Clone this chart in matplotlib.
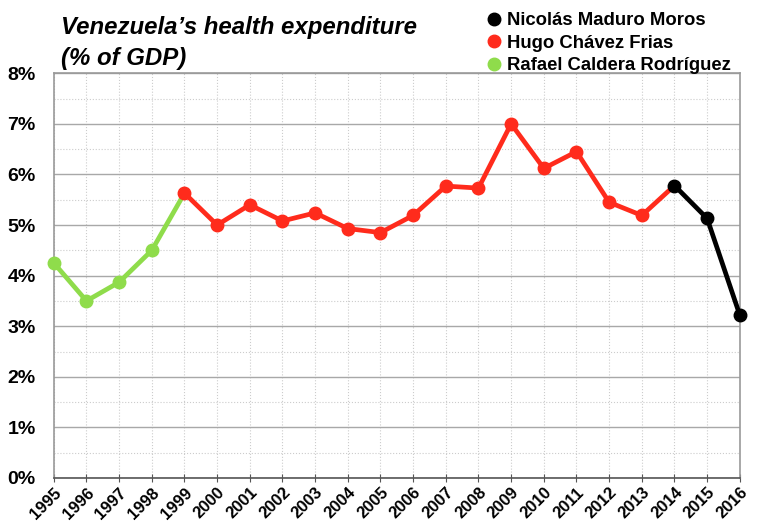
import numpy as np
from matplotlib import pyplot as plt
from matplotlib.ticker import MultipleLocator, FuncFormatter
from matplotlib.lines import Line2D

years = list(range(1995, 2017))
values = [4.25, 3.50, 3.87, 4.50, 5.63, 5.00, 5.40, 5.08, 5.24, 4.93, 4.85,
          5.19, 5.77, 5.73, 7.00, 6.12, 6.45, 5.45, 5.19, 5.78, 5.13, 3.22]

presidents = ["Nicolás Maduro Moros", "Hugo Chávez Frias", "Rafael Caldera Rodríguez"]
colors = ["#000000", "#ff2b1c", "#8fdc4b"]
# (first year, last year) of each president's line; markers stop one short except for the last
spans = [(2014, 2016), (1999, 2014), (1995, 1999)]


def main() -> None:
    plt.rcParams['font.family'] = ['Liberation Sans', 'DejaVu Sans']
    fig = plt.figure(figsize=(7.58, 5.27), dpi=100)
    ax = fig.add_axes([0.071, 0.093, 0.905, 0.768])

    x = np.array(years)
    y = np.array(values)
    for (start, end), color in zip(spans, colors):
        sel = (x >= start) & (x <= end)
        ax.plot(x[sel], y[sel], color=color, lw=3.4, zorder=3, solid_capstyle='round')
        msel = sel if end == years[-1] else (x >= start) & (x < end)
        ax.plot(x[msel], y[msel], 'o', color=color, ms=9, zorder=4, clip_on=False)

    ax.set_xlim(1995, 2016)
    ax.set_ylim(0, 8)
    ax.set_xticks(years)
    ax.set_xticklabels([str(v) for v in years], rotation=45, ha='right',
                       rotation_mode='anchor', fontweight='bold', fontsize=12)
    ax.yaxis.set_major_locator(MultipleLocator(1))
    ax.yaxis.set_minor_locator(MultipleLocator(0.5))
    ax.yaxis.set_major_formatter(FuncFormatter(lambda v, p: f"{v:.0f}%"))
    for lab in ax.get_yticklabels():
        lab.set_fontweight('bold')
        lab.set_fontsize(14)

    ax.grid(axis='y', which='major', color='#a8a8a8', lw=1.0)
    ax.grid(axis='y', which='minor', color='#cccccc', lw=0.8, ls=':')
    ax.grid(axis='x', which='major', color='#cccccc', lw=0.8, ls=':')
    ax.set_axisbelow(True)

    ax.tick_params(axis='y', which='both', length=0, pad=13)
    ax.tick_params(axis='x', which='major', length=6, direction='inout', color='#555555', pad=2)
    for s in ax.spines.values():
        s.set_color('#999999')
        s.set_linewidth(1.2)
    ax.spines['bottom'].set_color('#555555')

    fig.text(0.080, 0.947, "Venezuela’s health expenditure", fontsize=17.3,
             fontweight='bold', style='italic', va='center', ha='left')
    fig.text(0.080, 0.889, "(% of GDP)", fontsize=17.3,
             fontweight='bold', style='italic', va='center', ha='left')

    handles = [Line2D([], [], marker='o', ls='none', color=c, ms=9) for c in colors]
    fig.legend(handles, presidents, loc='upper left', bbox_to_anchor=(0.617, 1.008),
               frameon=False, handletextpad=0.25, labelspacing=0.3, handlelength=1.0,
               prop={'weight': 'bold', 'size': 13.3})

    fig.savefig("out.png", dpi=100)


if __name__ == '__main__':
    main()
